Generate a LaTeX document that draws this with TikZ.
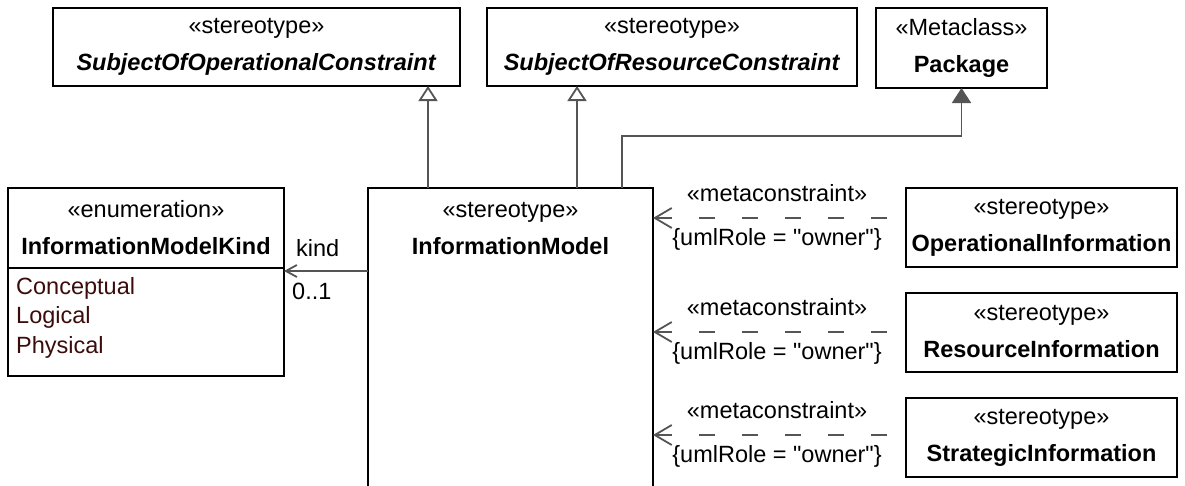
\documentclass[tikz,border=0pt]{standalone}
\usepackage{fontspec}
\setmainfont{Liberation Sans}[Ligatures=TeXOff]
\usetikzlibrary{positioning,arrows.meta}
\definecolor{lineGray}{RGB}{85,85,85}
\definecolor{literalBrown}{RGB}{60,12,12}

\begin{document}
\begin{tikzpicture}
[x=1pt,y=-1pt,
  every node/.style={font=\fontsize{23.5}{37}\selectfont},
  classDecorate/.style={shape=rectangle,draw,line width=2pt,align=center,inner sep=0pt,outer sep=0pt},
  genDecorate/.style={-{Triangle[open,length=15pt,width=19pt]},draw=lineGray,line width=1.8pt},
  extDecorate/.style={-{Triangle[length=15pt,width=19pt]},draw=lineGray,line width=1.8pt},
  assocDecorate/.style={-{Straight Barb[length=11pt,width=12pt]},draw=lineGray,line width=1.8pt},
  depDecorate/.style={-{Straight Barb[length=17pt,width=20pt]},draw=lineGray,line width=1.8pt,dash pattern=on 16pt off 27pt},
  labelDecorate/.style={inner sep=0pt}]
\useasboundingbox (0,0) rectangle (1185,485);
\clip (0,0) rectangle (1185,485);
%% top row
\node (sooc) at (256.5,47) [classDecorate,minimum width=407,minimum height=78]
  {«stereotype»\\\textbf{\textit{SubjectOfOperationalConstraint}}};
\node (sorc) at (672,47) [classDecorate,minimum width=370,minimum height=78]
  {«stereotype»\\\textbf{\textit{SubjectOfResourceConstraint}}};
\node (pkg) at (961.5,48) [classDecorate,minimum width=171,minimum height=80]
  {«Metaclass»\\\textbf{Package}};
%% enumeration
\node (enumHead) at (146,228) [classDecorate,minimum width=276,minimum height=80]
  {«enumeration»\\\textbf{InformationModelKind}};
\node (enumBody) [classDecorate,minimum width=276,minimum height=108,below=0pt of enumHead] {};
\node (enumLiterals) at ([xshift=8pt,yshift=-9pt]enumBody.north west)
  [labelDecorate,anchor=north west,align=left,text=literalBrown,font=\fontsize{23.5}{29.5}\selectfont]
  {Conceptual\\Logical\\Physical};
%% information model
\node (im) at (368,188) [classDecorate,anchor=north west,minimum width=285,minimum height=330] {};
\node (imHead) at (im.north) [anchor=north,align=center,minimum height=80,inner sep=0pt]
  {«stereotype»\\\textbf{InformationModel}};
%% generalizations and extension
\coordinate (genOp) at ([xshift=60pt]im.north west);
\coordinate (genRes) at ([xshift=209pt]im.north west);
\coordinate (extStart) at ([xshift=254pt]im.north west);
\draw[genDecorate] (genOp) -- (genOp |- sooc.south);
\draw[genDecorate] (genRes) -- (genRes |- sorc.south);
\draw[extDecorate] (extStart) -- ++(0,-52) -| (pkg.south);
%% kind association
\coordinate (kindStart) at ([yshift=-83pt]im.north west);
\coordinate (kindTip) at (kindStart -| enumBody.east);
\draw[assocDecorate] (kindStart) -- (kindTip);
\node (kindRole) at ([xshift=12pt,yshift=15pt]kindTip) [anchor=base west,inner sep=0pt] {kind};
\node (kindMult) at ([xshift=8pt,yshift=-28pt]kindTip) [anchor=base west,inner sep=0pt] {0..1};
%% information kinds
\foreach \nodename/\y/\dy/\title in {
  opInfo/227.5/9.5/OperationalInformation,
  resInfo/332/0/ResourceInformation,
  stratInfo/437.5/2.5/StrategicInformation}
{
  \node (\nodename) at (1041.5,\y) [classDecorate,minimum width=271,minimum height=79]
    {«stereotype»\\\textbf{\title}};
  \coordinate (\nodename Dep) at ([xshift=-19pt,yshift=\dy pt]\nodename.west);
  \draw[depDecorate] (\nodename Dep) -- (\nodename Dep -| im.east)
    node (\nodename Meta) [labelDecorate,pos=0.47,above=15pt] {«metaconstraint»}
    node (\nodename Role) [labelDecorate,pos=0.47,below=10pt] {\{umlRole = "owner"\}};
}
\end{tikzpicture}
\end{document}
